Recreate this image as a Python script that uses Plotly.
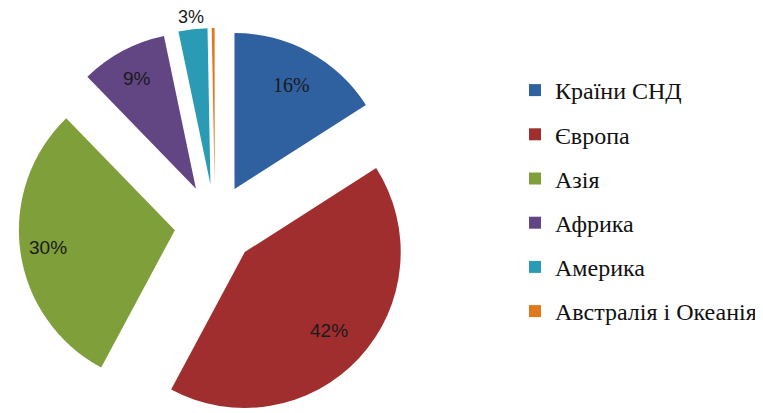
import math
import plotly.graph_objects as go

regions = ["Країни СНД", "Європа", "Азія", "Африка", "Америка", "Австралія і Океанія"]
shares = [16, 42, 30, 9, 3, 0.3]
share_labels = ["16%", "42%", "30%", "9%", "3%", ""]
colors = ["#2F609F", "#A12E2E", "#7E9F3A", "#624683", "#2A9AB5", "#E0781E"]
label_fonts = ["Liberation Serif", "Liberation Sans", "Liberation Sans",
               "Liberation Sans", "Liberation Sans", "Liberation Sans"]
label_sizes = [20, 19, 19, 19, 18, 18]
label_radius = [0.76, 0.74, 0.82, 0.80, 1.08, 1.1]   # fraction of pie radius

W, H = 763, 413
PULL = 0.26
DOM_X = [0.0136, 0.529]
DOM_Y = [0.0, 0.9516]

fig = go.Figure()
fig.add_trace(go.Pie(
    labels=regions,
    values=shares,
    textinfo="none",
    marker=dict(colors=colors, line=dict(width=0)),
    pull=[PULL] * len(regions),
    sort=False,
    direction="clockwise",
    rotation=0,
    showlegend=False,
    hoverinfo="label+percent",
    domain=dict(x=DOM_X, y=DOM_Y),
))

# percentage labels placed at each slice's mid-angle (derived from the data)
box_w = (DOM_X[1] - DOM_X[0]) * W
box_h = (DOM_Y[1] - DOM_Y[0]) * H
r = min(box_w, box_h) / 2 / (1 + PULL)
cx = (DOM_X[0] + DOM_X[1]) / 2 * W
cy = (1 - (DOM_Y[0] + DOM_Y[1]) / 2) * H
total = sum(shares)
cum = 0.0
for v, txt, fam, sz, k in zip(shares, share_labels, label_fonts, label_sizes, label_radius):
    mid = (cum + v / 2) / total * 2 * math.pi
    cum += v
    if not txt:
        continue
    dist = PULL * r + k * r
    px = cx + dist * math.sin(mid)
    py = cy - dist * math.cos(mid)
    fig.add_annotation(
        x=px / W, y=1 - py / H, xref="paper", yref="paper",
        xanchor="center", yanchor="middle",
        text=txt, showarrow=False,
        font=dict(family=fam, size=sz, color="#1a1a1a"),
    )

for i, (name, col) in enumerate(zip(regions, colors)):
    fig.add_trace(go.Scatter(
        x=[None], y=[None], mode="markers", name=name,
        marker=dict(symbol="square", size=12, color=col),
        legendgroup=f"g{i}", showlegend=True,
    ))

fig.update_layout(
    width=W, height=H,
    margin=dict(l=0, r=0, t=0, b=0),
    paper_bgcolor="white", plot_bgcolor="white",
    xaxis=dict(visible=False), yaxis=dict(visible=False),
    legend=dict(
        x=0.6645, y=0.8547, xanchor="left", yanchor="top",
        font=dict(family="Liberation Serif", size=24, color="#111111"),
        tracegroupgap=10, itemwidth=30,
        bgcolor="rgba(0,0,0,0)",
    ),
)

fig.write_html("out.html")
